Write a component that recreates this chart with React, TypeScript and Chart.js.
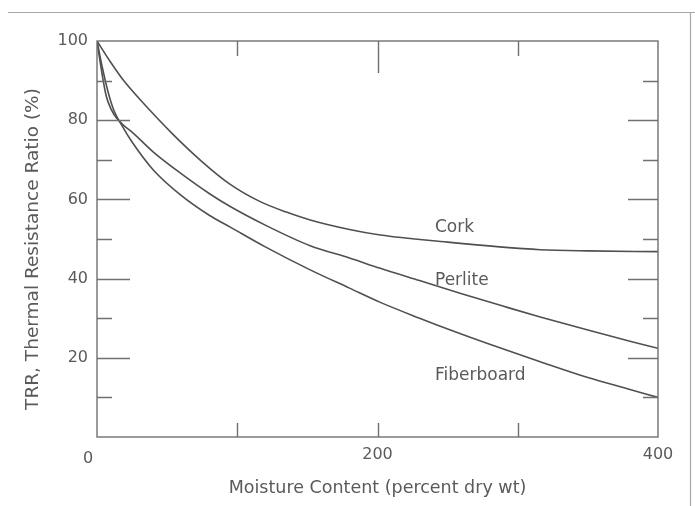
import React, { useEffect, useRef } from "react";
import { Chart, registerables } from "chart.js";
Chart.register(...registerables);

// Moisture content (percent dry wt) and TRR (%) for each material
const corkMoisture = [0, 10, 19, 31, 54, 75, 95, 116, 135, 152, 180, 202, 250, 287, 316, 350, 400];
const corkTRR = [100, 94.5, 90.0, 85.1, 76.5, 69.5, 63.8, 59.5, 56.8, 54.8, 52.4, 51, 49.2, 48, 47.3, 47, 46.8];

const perliteMoisture = [0, 3, 6, 8, 12, 18, 25, 40, 60, 80, 95, 120, 152, 180, 202, 230, 260, 290, 316, 350, 380, 400];
const perliteTRR = [100, 93, 87, 84.5, 81.5, 79, 77, 72, 66.5, 61.5, 58.2, 53.5, 48.3, 45.2, 42.6, 39.5, 36.2, 33, 30.3, 27, 24.2, 22.4];

const fiberMoisture = [0, 4, 8, 12, 18, 25, 40, 60, 80, 95, 120, 152, 180, 202, 230, 252, 280, 316, 350, 380, 400];
const fiberTRR = [100, 93, 87, 82.5, 78.5, 74.5, 67.5, 61, 56, 53, 48, 42.2, 37.6, 34, 30, 27, 23.4, 19, 15, 12, 10];

const seriesNames = ["Cork", "Perlite", "Fiberboard"];
const xTickValues = [0, 100, 200, 300, 400];
const xLabeledTicks = [200, 400];
const yTickValues = [10, 20, 30, 40, 50, 60, 70, 80, 90];
const yLabeledTicks = [20, 40, 60, 80, 100];

const FONT = "'DejaVu Sans', sans-serif";
const TEXT = "#5a5a5a";
const LINE = "#505050";

const toPts = (xs: number[], ys: number[]) => xs.map((x, i) => ({ x, y: ys[i] }));

const decorPlugin = {
  id: "decor",
  afterDatasetsDraw(chart: any) {
    const { ctx, chartArea, scales } = chart;
    const { left, right, top, bottom } = chartArea;
    const x = scales.x;
    const y = scales.y;
    ctx.save();
    // scan frame
    ctx.strokeStyle = "#a8a8a8";
    ctx.lineWidth = 1.2;
    ctx.beginPath();
    ctx.moveTo(8, 12.5);
    ctx.lineTo(695, 12.5);
    ctx.moveTo(690.5, 12.5);
    ctx.lineTo(690.5, 506);
    ctx.stroke();

    // plot frame
    ctx.strokeStyle = "#707070";
    ctx.lineWidth = 1.4;
    ctx.strokeRect(left, top, right - left, bottom - top);

    // inward ticks
    ctx.beginPath();
    yTickValues.forEach((v) => {
      const py = Math.round(y.getPixelForValue(v)) + 0.5;
      const major = v % 20 === 0;
      ctx.moveTo(left, py);
      ctx.lineTo(left + (major ? 33 : 15), py);
      ctx.moveTo(right, py);
      ctx.lineTo(right - (major ? 30 : 15), py);
    });
    xTickValues.slice(1, -1).forEach((v) => {
      const px = Math.round(x.getPixelForValue(v)) + 0.5;
      ctx.moveTo(px, top);
      ctx.lineTo(px, top + (v === 200 ? 32 : 15));
      ctx.moveTo(px, bottom);
      ctx.lineTo(px, bottom - 14);
    });
    ctx.stroke();

    // corner zero label
    ctx.fillStyle = TEXT;
    ctx.font = `16px ${FONT}`;
    ctx.textAlign = "center";
    ctx.textBaseline = "middle";
    ctx.fillText(String(xTickValues[0]), left - 9, bottom + 22);

    // y axis title
    ctx.save();
    ctx.translate(33, (top + bottom) / 2 + 10);
    ctx.rotate(-Math.PI / 2);
    ctx.font = `18.5px ${FONT}`;
    ctx.fillText("TRR, Thermal Resistance Ratio (%)", 0, 0);
    ctx.restore();

    // series labels
    ctx.font = `17px ${FONT}`;
    ctx.textAlign = "left";
    const labelPos = [
      [241, 53],
      [241, 39.6],
      [241, 15.4],
    ];
    seriesNames.forEach((name, i) => {
      ctx.fillText(name, x.getPixelForValue(labelPos[i][0]), y.getPixelForValue(labelPos[i][1]));
    });
    ctx.restore();
  },
};

export default function App() {
  const ref = useRef<HTMLCanvasElement>(null);
  useEffect(() => {
    document.body.style.margin = "0";
    const ds = (name: string, xs: number[], ys: number[]) => ({
      label: name,
      data: toPts(xs, ys),
      borderColor: LINE,
      borderWidth: 1.6,
      pointRadius: 0,
      fill: false,
      cubicInterpolationMode: "monotone" as const,
    });
    const chart = new Chart(ref.current!, {
      type: "line",
      data: {
        datasets: [
          ds(seriesNames[0], corkMoisture, corkTRR),
          ds(seriesNames[1], perliteMoisture, perliteTRR),
          ds(seriesNames[2], fiberMoisture, fiberTRR),
        ],
      },
      options: {
        animation: false,
        responsive: false,
        devicePixelRatio: 1,
        layout: { padding: { left: 0, right: 37, top: 41, bottom: 0 } },
        plugins: { legend: { display: false }, tooltip: { enabled: false } },
        scales: {
          x: {
            type: "linear",
            min: 0,
            max: 400,
            afterFit: (s: any) => {
              s.height = 69;
            },
            afterBuildTicks: (s: any) => {
              s.ticks = xTickValues.map((v) => ({ value: v }));
            },
            grid: { display: false, drawTicks: false },
            border: { display: false },
            ticks: {
              padding: 8,
              color: TEXT,
              font: { family: FONT, size: 16 },
              maxRotation: 0,
              callback: (v: any) => (xLabeledTicks.includes(Number(v)) ? String(v) : ""),
            },
            title: {
              display: true,
              text: "Moisture Content (percent dry wt)",
              color: TEXT,
              font: { family: FONT, size: 17.5 },
              padding: { top: 0, bottom: 7 },
            },
          },
          y: {
            type: "linear",
            min: 0,
            max: 100,
            afterFit: (s: any) => {
              s.width = 97;
            },
            afterBuildTicks: (s: any) => {
              s.ticks = yLabeledTicks.map((v) => ({ value: v }));
            },
            grid: { display: false, drawTicks: false },
            border: { display: false },
            ticks: {
              padding: 9,
              color: TEXT,
              font: { family: FONT, size: 16 },
            },
          },
        },
      },
      plugins: [decorPlugin],
    });
    return () => chart.destroy();
  }, []);
  return <canvas ref={ref} width={695} height={506} style={{ display: "block" }} />;
}
